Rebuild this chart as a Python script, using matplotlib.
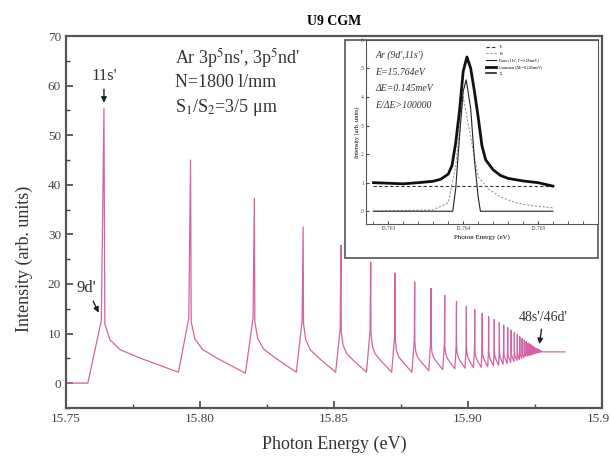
import matplotlib.pyplot as plt
import matplotlib.ticker as ticker
from matplotlib.patches import Rectangle

# Espectro Ar, serie de Rydberg ns'/nd' (n = 11 ... 48)
peak_e = [15.7642, 15.7965, 15.8203, 15.8385, 15.8526, 15.8637, 15.8728, 15.8801,
          15.8862, 15.8913, 15.8957, 15.8994, 15.9025, 15.9053, 15.9077, 15.9098,
          15.9117, 15.9133, 15.9148, 15.9161, 15.9173, 15.9184, 15.9193, 15.9202,
          15.9210, 15.9217, 15.9224, 15.9230, 15.9235, 15.9241, 15.9245, 15.9250,
          15.9254, 15.9258, 15.9261, 15.9265, 15.9268, 15.9271]
peak_h = [55.4, 45.0, 37.3, 31.5, 27.8, 24.4, 22.2, 20.4, 19.1, 17.7, 16.5, 15.5,
          14.8, 14.1, 13.4, 12.8, 12.2, 11.7, 11.2, 10.7, 10.2, 9.8, 9.4, 9.0,
          8.7, 8.4, 8.1, 7.9, 7.7, 7.5, 7.3, 7.1, 7.0, 6.9, 6.8, 6.7, 6.6, 6.5]
bump_h = [12.7, 13.1, 13.1, 12.7, 11.0, 10.7, 9.3, 8.7, 8.4, 8.1, 7.9, 7.7, 7.5,
          7.4, 7.3, 7.2, 7.1, 7.0, 6.95, 6.9, 6.85, 6.8, 6.75, 6.7, 6.65, 6.6,
          6.55, 6.5, 6.5, 6.45, 6.45, 6.4, 6.4, 6.4, 6.35, 6.35, 6.3, 6.3]
dip_h = [2.2, 2.0, 2.2, 2.2, 2.2, 2.2, 2.2, 2.5, 2.7, 2.9, 3.0, 3.1, 3.2, 3.3,
         3.5, 3.6, 3.8, 4.0, 4.2, 4.4, 4.6, 4.8, 5.0, 5.2, 5.4, 5.5, 5.6, 5.7,
         5.8, 5.9, 6.0, 6.05, 6.1, 6.15, 6.2, 6.25, 6.3]
pre_e, pre_y = [15.7505, 15.7582], [0.0, 0.0]
tail_e, tail_y = [15.9276, 15.9362], [6.3, 6.3]

# inset: 9d'/11s'
ins_e = [15.7628, 15.7632, 15.7634, 15.7636, 15.7637, 15.7638, 15.76385, 15.7639,
         15.76395, 15.7640, 15.76405, 15.7641, 15.76415, 15.7642, 15.76425, 15.7643,
         15.7644, 15.7645, 15.7646, 15.7648, 15.7650, 15.7652]
ins_y = [1.0, 0.96, 1.0, 1.05, 1.12, 1.3, 1.6, 2.4, 3.5, 4.9, 5.4, 5.0, 4.2, 3.3,
         2.3, 1.8, 1.45, 1.25, 1.15, 1.06, 1.0, 0.88]
gau_e = [15.7628, 15.76386, 15.7639, 15.76395, 15.7640, 15.76404, 15.7641,
         15.76415, 15.7642, 15.76423, 15.7652]
gau_y = [0.0, 0.0, 0.8, 2.6, 4.2, 4.6, 3.6, 1.8, 0.5, 0.0, 0.0]
fano_e = [15.7628, 15.7636, 15.7638, 15.7639, 15.7640, 15.7641, 15.7642, 15.76435,
          15.7645, 15.7647, 15.7649, 15.7652]
fano_y = [0.0, 0.05, 0.3, 1.6, 4.0, 2.6, 1.2, 0.75, 0.5, 0.3, 0.2, 0.12]
bg_e, bg_y = [15.7628, 15.7652], [0.89, 0.89]

plt.rcParams['font.family'] = ['Liberation Serif', 'DejaVu Serif']
plt.rcParams['mathtext.fontset'] = 'stix'

# forma del decaimiento entre picos (fraccion del intervalo, fraccion bump->dip)
DX = [0.01, 0.07, 0.19, 0.42, 0.65, 0.86]
DF = [0.93, 0.62, 0.43, 0.27, 0.13, 0.0]

xs, ys = list(pre_e), list(pre_y)
n = len(peak_e)
for i in range(n):
    d_prev = peak_e[i] - peak_e[i - 1] if i > 0 else peak_e[1] - peak_e[0]
    xs.append(peak_e[i] - (0.03 if i == 0 else 0.02) * d_prev)
    ys.append(bump_h[i])
    xs.append(peak_e[i]); ys.append(peak_h[i])
    if i < n - 1:
        d = peak_e[i + 1] - peak_e[i]
        for fx, ff in zip(DX, DF):
            xs.append(peak_e[i] + fx * d)
            ys.append(dip_h[i] + (bump_h[i] - dip_h[i]) * ff)
xs += tail_e
ys += tail_y

fig = plt.figure(figsize=(6.10, 4.63), dpi=100)
ax = fig.add_axes([0.108, 0.119, 0.879, 0.803])
ax.plot(xs, ys, color='#d264a4', lw=0.9)
ax.set_xlim(15.75, 15.95)
ax.set_ylim(-5, 70)
ax.xaxis.set_major_locator(ticker.MultipleLocator(0.05))
ax.xaxis.set_minor_locator(ticker.MultipleLocator(0.025))
ax.yaxis.set_major_locator(ticker.MultipleLocator(10))
ax.yaxis.set_minor_locator(ticker.MultipleLocator(5))
ax.xaxis.set_major_formatter(ticker.FormatStrFormatter('%.2f'))
ax.tick_params(which='both', direction='in', top=False, right=False,
               labelsize=9.5, colors='#444444')
ax.tick_params(which='major', length=5, width=1.2)
ax.tick_params(which='minor', length=3, width=1.0)
for s in ax.spines.values():
    s.set_linewidth(1.6)
    s.set_color('#555555')
ax.set_xlabel('Photon Energy (eV)', fontsize=13, labelpad=8, color='#333333')
ax.set_ylabel('Intensity (arb. units)', fontsize=13, color='#333333')
ax.yaxis.set_label_coords(-0.062, 0.40)
ax.set_title('U9 CGM', fontsize=10, fontweight='bold', pad=8)

ax.text(15.7907, 65.5, "Ar 3p$^5$ns', 3p$^5$nd'", fontsize=13, va='center', color='#333333')
ax.text(15.7907, 60.7, 'N=1800 l/mm', fontsize=13, va='center', color='#333333')
ax.text(15.7907, 55.6, 'S$_1$/S$_2$=3/5 μm', fontsize=13, va='center', color='#333333')

arr = dict(arrowstyle='-|>', color='#222222', lw=1.0, mutation_scale=8)
ax.annotate("11s'", xy=(15.7642, 56.0), xytext=(15.7642, 62.0), fontsize=12,
            ha='center', va='center', arrowprops=arr, color='#333333')
ax.annotate("9d'", xy=(15.7627, 13.7), xytext=(15.7578, 19.2), fontsize=12,
            ha='center', va='center', arrowprops=arr, color='#333333')
ax.annotate("48s'/46d'", xy=(15.9265, 7.3), xytext=(15.928, 13.3), fontsize=10,
            ha='center', va='center', arrowprops=arr, color='#333333')

# recuadro del inset
fig.patches.append(Rectangle((0.566, 0.443), 0.414, 0.471, transform=fig.transFigure,
                             fill=True, facecolor='white', edgecolor='#555555',
                             lw=1.2, zorder=2))
ins = fig.add_axes([0.600, 0.516, 0.380, 0.398], zorder=3)
ins.plot(bg_e, bg_y, color='#333333', lw=0.8, ls=(0, (3, 2)), label='E')
ins.plot(fano_e, fano_y, color='#999999', lw=0.8, ls=(0, (2, 1.5)), label='B')
ins.plot(gau_e, gau_y, color='#222222', lw=0.8, label="Fano (11s', Γ=0.18meV)")
ins.plot(ins_e, ins_y, color='#111111', lw=2.0, label="Gaussian (ΔE=0.145meV)")
ins.plot([], [], color='#222222', lw=1.2, label='Σ')
ins.set_xlim(15.7627, 15.7658)
ins.set_ylim(-0.45, 6.0)
ins.xaxis.set_major_locator(ticker.MultipleLocator(0.001))
ins.xaxis.set_minor_locator(ticker.MultipleLocator(0.0002))
ins.xaxis.set_major_formatter(ticker.FormatStrFormatter('%.3f'))
ins.yaxis.set_major_locator(ticker.MultipleLocator(1))
ins.tick_params(which='both', direction='in', labelsize=4, length=2, pad=1.5,
                colors='#444444')
for s in ins.spines.values():
    s.set_linewidth(0.8)
    s.set_color('#555555')
ins.spines['bottom'].set_linestyle((0, (2, 1)))
ins.set_xlabel('Photon Energy (eV)', fontsize=5, labelpad=2)
ins.set_ylabel('Intensity (arb. units)', fontsize=4.5, labelpad=1)
ins.legend(loc='upper left', bbox_to_anchor=(0.5, 0.99), fontsize=3, frameon=False,
           handlelength=2.5, labelspacing=0.6)
tk = dict(fontsize=7, style='italic', transform=ins.transAxes, color='#333333')
ins.text(0.04, 0.90, "Ar (9d',11s')", **tk)
ins.text(0.04, 0.81, 'E=15.764eV', **tk)
ins.text(0.04, 0.72, 'ΔE=0.145meV', **tk)
ins.text(0.04, 0.63, 'E/ΔE>100000', **tk)

fig.savefig('out.png', dpi=100)
